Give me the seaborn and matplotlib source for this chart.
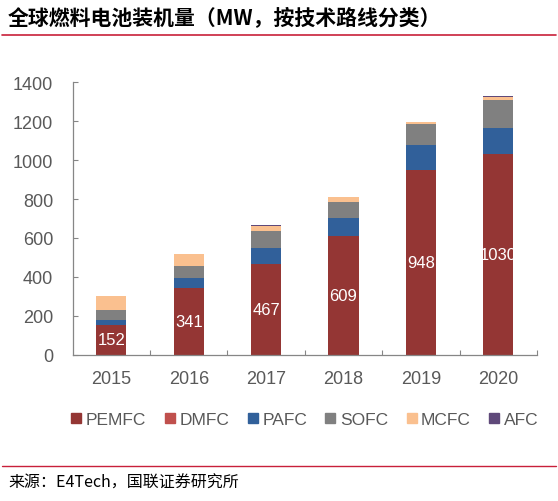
import numpy as np
import pandas as pd
import matplotlib
matplotlib.use("Agg")
import matplotlib.pyplot as plt
import seaborn as sns
from matplotlib.lines import Line2D

# ---- data ----
years = ['2015', '2016', '2017', '2018', '2019', '2020']
pemfc = [152, 341, 467, 609, 948, 1030]
dmfc = [0.5, 0.3, 0.3, 0.3, 0.5, 0.5]
pafc = [25, 55, 82, 92, 128, 133]
sofc = [50, 62, 87, 82, 108, 145]
mcfc = [75, 60, 27, 27, 10, 15]
afc = [1, 1, 2, 1, 1, 4]
series_names = ['PEMFC', 'DMFC', 'PAFC', 'SOFC', 'MCFC', 'AFC']
series_colors = ['#943634', '#c0504d', '#31609a', '#808080', '#fac08f', '#5f497a']
yticks = [0, 200, 400, 600, 800, 1000, 1200, 1400]
title = '全球燃料电池装机量（MW，按技术路线分类）'
source = '来源：E4Tech，国联证券研究所'

sns.set_theme(style='white')
plt.rcParams['font.family'] = ['Liberation Sans', 'Noto Sans CJK SC', 'DejaVu Sans']

df = pd.DataFrame({'year': years, 'PEMFC': pemfc, 'DMFC': dmfc, 'PAFC': pafc,
                   'SOFC': sofc, 'MCFC': mcfc, 'AFC': afc})
cum = df[series_names].cumsum(axis=1)

fig = plt.figure(figsize=(5.58, 5.02), dpi=100)
ax = fig.add_axes([72.7 / 558, 1 - 355.7 / 502, (537 - 72.7) / 558, (355.7 - 83.3) / 502])

# draw from the top layer down so lower layers cover the cumulative bars
for name, color in zip(reversed(series_names), reversed(series_colors)):
    sns.barplot(x=df['year'], y=cum[name], color=color, saturation=1,
                width=0.39, errorbar=None, ax=ax, order=years, linewidth=0)

# labels inside PEMFC
for i, v in enumerate(pemfc):
    ax.text(i, v / 2, str(v), ha='center', va='center', color='white',
            fontsize=12, family='Liberation Sans')

ax.set_xlim(-0.5, 5.5)
ax.set_ylim(0, 1400)
ax.set_yticks(yticks)
ax.set_xlabel('')
ax.set_ylabel('')
for s in ['top', 'right']:
    ax.spines[s].set_visible(False)
for s in ['left', 'bottom']:
    ax.spines[s].set_color('#868686')
    ax.spines[s].set_linewidth(0.9)

ax.tick_params(axis='y', direction='in', length=3.5, width=0.8, color='#868686',
               labelsize=13, labelcolor='#595959', pad=14, left=True)
ax.tick_params(axis='x', which='major', length=0, labelsize=13,
               labelcolor='#595959', pad=11)
ax.set_xticks(np.arange(0.5, 6, 1), minor=True)
ax.tick_params(axis='x', which='minor', direction='in', length=3.5, width=0.8,
               color='#868686', bottom=True)

# legend
handles = [Line2D([0], [0], marker='s', linestyle='none', markersize=6.5,
                  markerfacecolor=c, markeredgecolor=c) for c in series_colors]
fig.legend(handles, series_names, loc='center', bbox_to_anchor=(304 / 558, 1 - 420 / 502),
           ncol=6, frameon=False, fontsize=12.5, handletextpad=0.15,
           columnspacing=0.95, handlelength=0.8, labelcolor='#595959')

# title and source
fig.text(8 / 558, 1 - 18 / 502, title, fontsize=15, fontweight='bold',
         family=['Noto Sans CJK SC', 'DejaVu Sans'], va='center', ha='left', color='black')
fig.add_artist(Line2D([2 / 558, 556 / 558], [1 - 35.7 / 502] * 2, color='#c8203a', linewidth=1.2))
fig.add_artist(Line2D([2 / 558, 556 / 558], [1 - 467 / 502] * 2, color='#c8203a', linewidth=1.0))
fig.text(8 / 558, 1 - 483 / 502, source, fontsize=11.5,
         family=['Noto Sans CJK SC', 'DejaVu Sans'], va='center', ha='left', color='black')

fig.savefig('out.png', dpi=100)
